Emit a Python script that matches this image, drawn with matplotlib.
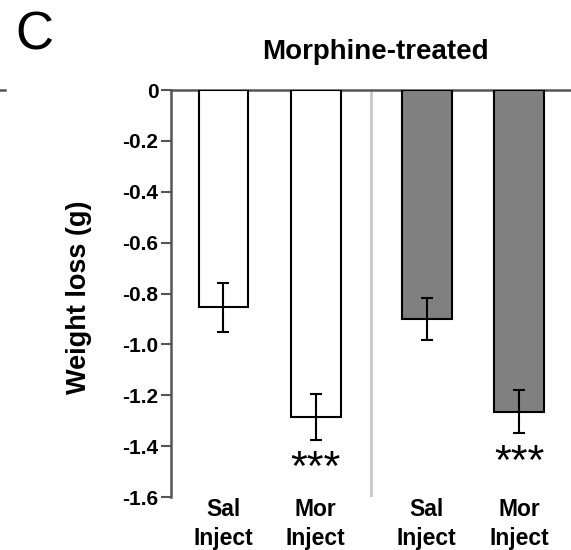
import matplotlib
matplotlib.use("Agg")
import matplotlib.pyplot as plt
from matplotlib.lines import Line2D

plt.rcParams['font.family'] = ['Liberation Sans', 'DejaVu Sans']

# weight loss after injection, morphine-treated mice
labels = ["Sal\nInject", "Mor\nInject", "Sal\nInject", "Mor\nInject"]
means = [-0.855, -1.285, -0.90, -1.265]
sems = [0.095, 0.09, 0.082, 0.085]
fills = ["white", "white", "#808080", "#808080"]
signif = ["", "***", "", "***"]
xpos = [0, 1, 2.2, 3.2]

yticks = [0, -0.2, -0.4, -0.6, -0.8, -1.0, -1.2, -1.4, -1.6]
ytick_labels = ["0", "-0.2", "-0.4", "-0.6", "-0.8", "-1.0", "-1.2", "-1.4", "-1.6"]

axis_grey = "#555555"

fig = plt.figure(figsize=(5.71, 5.50), dpi=100)
ax = fig.add_axes([171/571, 53/550, 400/571, 407/550])

ax.bar(xpos, means, width=0.54, color=fills, edgecolor="black", linewidth=1.5, zorder=3)
ax.errorbar(xpos, means, yerr=sems, fmt="none", ecolor="black",
            elinewidth=1.5, capsize=4.3, capthick=1.5, zorder=4)

for x, m, s, t in zip(xpos, means, sems, signif):
    if t:
        ax.annotate(t, xy=(x, m - s), xytext=(0, -7), textcoords="offset points",
                    ha="center", va="top", fontsize=31)

# divider between the two injection groups
ax.axvline((xpos[1] + xpos[2]) / 2, color="#c8c8c8", lw=2, zorder=1)

ax.set_ylim(-1.6, 0)
ax.set_xlim(-0.568, 3.762)
ax.set_yticks(yticks)
ax.set_yticklabels(ytick_labels, fontsize=15, fontweight="bold")
ax.set_xticks(xpos)
ax.set_xticklabels(labels, fontsize=16.5, fontweight="bold", linespacing=1.3)
ax.tick_params(axis="x", length=0, pad=1)
ax.tick_params(axis="y", direction="out", length=7, width=1.5, color=axis_grey, pad=2)

for side in ["bottom", "right"]:
    ax.spines[side].set_visible(False)
for side in ["left", "top"]:
    ax.spines[side].set_color(axis_grey)
    ax.spines[side].set_linewidth(1.8)

ax.set_ylabel("Weight loss (g)", fontsize=19.5, fontweight="bold")
ax.yaxis.set_label_coords(-0.1975, 0.49)

ax.text(0.51, 1.076, "Morphine-treated", transform=ax.transAxes,
        ha="center", va="baseline", fontsize=20, fontweight="bold")

fig.text(15/571, 1 - 49/550, "C", fontsize=38, va="baseline")
fig.add_artist(Line2D([0, 5/571], [1 - 90/550, 1 - 90/550], color=axis_grey, lw=1.8))

fig.savefig("out.png", dpi=100)
